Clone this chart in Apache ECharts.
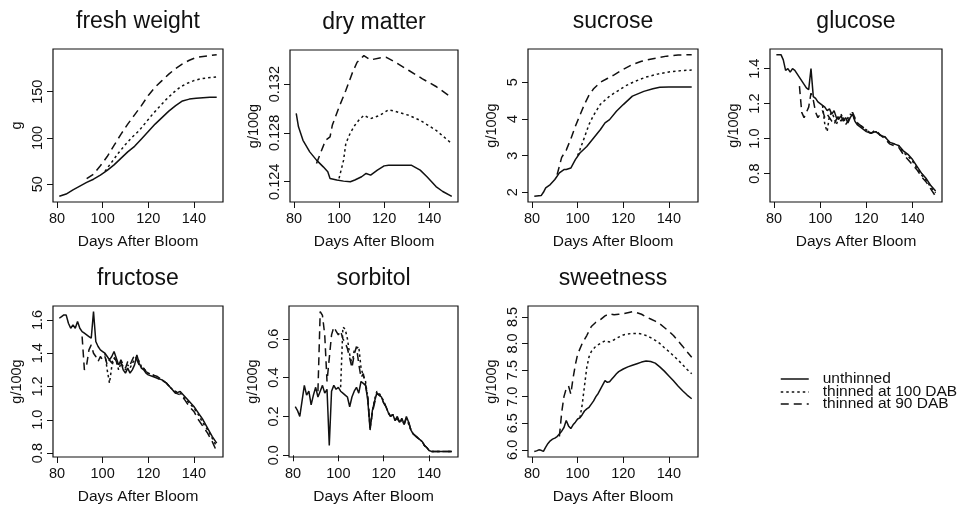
<!DOCTYPE html>
<html><head><meta charset="utf-8">
<script src="https://cdn.jsdelivr.net/npm/echarts@6/dist/echarts.min.js"></script>
<style>html,body{margin:0;padding:0;background:#fff}#c{width:965px;height:509px}</style>
</head><body><div id="c"></div>
<script>
// ---------- tick labels ----------
const dayTicks = [80, 100, 120, 140];
const freshTicks = [50, 100, 150];
const dryTicks = [0.124, 0.128, 0.132];
const sucroseTicks = [2, 3, 4, 5];
const glucoseTicks = [0.8, 1.0, 1.2, 1.4];
const fructoseTicks = [0.8, 1.0, 1.2, 1.4, 1.6];
const sorbitolTicks = [0.0, 0.2, 0.4, 0.6];
const sweetTicks = [6.0, 6.5, 7.0, 7.5, 8.0, 8.5];
const seriesNames = ['unthinned', 'thinned at 100 DAB', 'thinned at 90 DAB'];

// ---------- fresh weight (g) ----------
const freshDaysUn = [81,84,87,90,93,96,99,102,105,108,111,114,117,120,123,126,129,132,135,138,141,144,147,150];
const freshUn = [37,39.5,44,48,52,55.5,60,65,71,78,85,91,99,107,115,122,129,135,140,142,143,143.5,144,144];
const freshDays100 = [101,104,107,110,113,116,119,122,125,128,131,134,137,140,143,146,150];
const fresh100 = [64,74,84,93,101,108,117,126,134,142,149,155,159,162,164,165,166];
const freshDays90 = [93,96,99,102,105,108,111,114,117,120,123,126,129,132,135,138,141,144,147,150];
const fresh90 = [56,61,70,80,92,104,115,125,135,146,155,162,169,175,180,184,187,188,189,190];

// ---------- dry matter ----------
const dryDaysUn = [81,82,84,87,90,93,95,96,99,102,105,107,110,112,114,117,120,122,126,129,132,136,139,143,146,150];
const dryUn = [0.1296,0.1285,0.1274,0.12645,0.12577,0.12522,0.12482,0.12427,0.12414,0.12405,0.124,0.12414,0.12441,0.12468,0.12454,0.12495,0.1253,0.12536,0.12536,0.12536,0.12536,0.12495,0.12441,0.1236,0.1232,0.1228];
const dryDays100 = [100,102,103,105,107,109,111,114,118,122,125,131,136,143,150];
const dry100 = [0.12427,0.12577,0.12713,0.128,0.12863,0.1291,0.12944,0.12917,0.12944,0.1299,0.12977,0.12944,0.12903,0.12822,0.12713];
const dryDays90 = [90,92,94,96,97,100,103,106,108,111,114,118,121,125,131,137,143,150];
const dry90 = [0.1255,0.12645,0.1274,0.12767,0.12863,0.13012,0.13148,0.13298,0.1338,0.13434,0.13399,0.13415,0.1342,0.1338,0.13312,0.13244,0.13181,0.1309];

// ---------- sucrose ----------
const sucDaysUn = [81,84,85,86,88,90,92,94,95,97,99,101,104,107,110,112,114,117,120,124,129,133,136,140,145,150];
const sucUn = [1.89,1.91,2.0,2.12,2.21,2.35,2.53,2.62,2.62,2.66,2.89,3.07,3.25,3.48,3.71,3.89,3.98,4.21,4.39,4.62,4.75,4.82,4.86,4.87,4.87,4.87];
const sucDays100 = [100,101,103,105,107,110,114,118,121,125,130,135,140,146,150];
const suc100 = [3.0,3.16,3.5,3.85,4.1,4.4,4.62,4.78,4.9,5.02,5.14,5.22,5.28,5.32,5.33];
const sucDays90 = [91,93,95,97,99,101,103,105,107,110,113,116,120,124,128,133,139,144,150];
const suc90 = [2.48,2.95,3.15,3.45,3.8,4.1,4.4,4.65,4.82,5.0,5.1,5.2,5.35,5.48,5.57,5.64,5.71,5.74,5.75];

// ---------- shared day lists for glucose / fructose ----------
const hexDaysUn = [81,82,83,84,85,86,87,88,89,90,91,92,93,94,95,96,97,98,99,100,101,102,103,104,105,106,107,108,109,110,111,112,113,114,115,116,117,118,119,120,122,124,126,128,130,132,134,136,138,140,142,144,146,148,150];
const hexDays90 = [91,92,93,94,95,96,97,98,99,100,101,102,103,104,105,106,107,108,109,110,111,112,113,114,115,116,117,118,119,120,122,124,126,128,130,132,134,136,138,140,142,144,146,148,150];
const hexDays100 = [101,102,103,104,105,106,107,108,109,110,111,112,113,114,115,116,117,118,119,120,122,124,126,128,130,132,134,136,138,140,142,144,146,148,150];

// ---------- glucose ----------
const gluUn = [1.48,1.48,1.48,1.45,1.39,1.40,1.38,1.40,1.39,1.37,
  1.35,1.33,1.31,1.29,1.28,1.40,1.24,1.23,1.21,1.20,
  1.19,1.18,1.16,1.17,1.14,1.16,1.12,1.11,1.13,1.10,
  1.12,1.09,1.12,1.14,1.10,1.08,1.07,1.06,1.05,1.04,
  1.03,1.04,1.02,1.01,0.98,0.97,0.96,0.93,0.91,0.88,0.84,0.80,0.77,0.73,0.70];
const glu90 = [1.30,1.15,1.12,1.15,1.18,1.26,1.22,1.15,1.12,1.14,
  1.16,1.12,1.14,1.12,1.10,1.08,1.11,1.13,1.10,1.12,
  1.08,1.10,1.13,1.15,1.12,1.09,1.08,1.07,1.06,1.05,
  1.03,1.05,1.02,1.00,0.97,0.96,0.95,0.91,0.88,0.85,0.82,0.78,0.75,0.71,0.67];
const glu100 = [1.19,1.08,1.04,1.13,1.15,1.12,1.08,1.12,1.14,1.11,
  1.10,1.12,1.14,1.13,1.11,1.09,1.08,1.07,1.06,1.05,
  1.03,1.04,1.02,1.01,0.98,0.97,0.96,0.92,0.90,0.87,0.83,0.79,0.76,0.72,0.69];

// ---------- fructose ----------
const fruUn = [1.61,1.62,1.63,1.63,1.58,1.55,1.57,1.55,1.59,1.55,
  1.53,1.52,1.51,1.50,1.49,1.65,1.47,1.44,1.42,1.41,
  1.40,1.38,1.36,1.38,1.41,1.37,1.33,1.35,1.30,1.28,
  1.31,1.28,1.30,1.33,1.39,1.34,1.31,1.30,1.28,1.27,
  1.26,1.25,1.24,1.22,1.19,1.16,1.17,1.14,1.11,1.08,1.04,1.00,0.95,0.90,0.86];
const fru90 = [1.50,1.30,1.33,1.42,1.45,1.40,1.38,1.35,1.38,1.36,
  1.38,1.33,1.36,1.34,1.38,1.35,1.32,1.36,1.33,1.31,
  1.35,1.33,1.36,1.39,1.36,1.33,1.31,1.31,1.29,1.28,
  1.27,1.26,1.24,1.22,1.19,1.16,1.15,1.12,1.08,1.05,1.00,0.96,0.92,0.87,0.81];
const fru100 = [1.40,1.30,1.22,1.32,1.37,1.35,1.30,1.34,1.32,1.30,
  1.33,1.31,1.34,1.36,1.38,1.35,1.32,1.31,1.29,1.28,
  1.27,1.25,1.24,1.22,1.19,1.17,1.16,1.13,1.10,1.07,1.03,0.98,0.94,0.89,0.84];

// ---------- sorbitol ----------
const sorDaysUn = [81,82,83,84,85,86,87,88,89,90,91,92,93,94,95,96,97,98,99,100,101,102,103,104,105,106,107,108,109,110,111,112,113,114,115,116,117,118,119,120,121,122,123,124,125,126,127,128,129,130,131,132,133,134,135,136,137,138,139,140,141,143,145,147,150];
const sorUn = [0.25,0.23,0.20,0.28,0.36,0.31,0.33,0.26,0.31,0.35,
  0.30,0.33,0.36,0.32,0.34,0.05,0.33,0.36,0.34,0.35,
  0.33,0.32,0.31,0.30,0.25,0.30,0.33,0.35,0.32,0.38,
  0.37,0.36,0.28,0.13,0.23,0.28,0.32,0.31,0.30,0.27,
  0.25,0.22,0.20,0.21,0.18,0.20,0.17,0.19,0.16,0.20,
  0.17,0.13,0.11,0.10,0.09,0.08,0.07,0.05,0.04,0.025,0.02,
  0.02,0.02,0.02,0.02];
const sorDays90 = [91,92,93,94,95,96,97,98,99,100,101,102,103,104,105,106,107,108,109,110,111,112,113,114,115,116,117,118,119,120,121,122,123,124,125,126,127,128,129,130,131,132,133,134,135,136,137,138,139,140,141,143,145,147,150];
const sor90 = [0.33,0.74,0.72,0.62,0.38,0.50,0.62,0.66,0.64,0.62,
  0.64,0.60,0.58,0.55,0.50,0.45,0.52,0.56,0.47,0.40,
  0.42,0.36,0.30,0.14,0.22,0.27,0.32,0.31,0.30,0.27,0.25,
  0.22,0.20,0.21,0.18,0.19,0.17,0.18,0.16,0.19,0.17,
  0.13,0.11,0.10,0.09,0.08,0.07,0.05,0.04,0.025,0.02,
  0.02,0.02,0.02,0.02];
const sorDays100 = [101,102,103,104,105,106,107,108,109,110,111,112,113,114,115,116,117,118,119,120,121,122,123,124,125,126,127,128,129,130,131,132,133,134,135,136,137,138,139,140,141,143,145,147,150];
const sor100 = [0.35,0.66,0.65,0.60,0.52,0.47,0.54,0.55,0.56,0.45,
  0.41,0.38,0.29,0.14,0.22,0.29,0.33,0.32,0.30,0.28,
  0.25,0.22,0.20,0.21,0.18,0.19,0.17,0.18,0.16,0.19,
  0.16,0.13,0.11,0.10,0.09,0.08,0.07,0.05,0.04,0.025,0.02,
  0.02,0.02,0.02,0.02];

// ---------- sweetness ----------
const swDaysUn = [81,82,83,84,85,86,87,88,89,90,91,92,93,94,95,96,97,98,99,100,101,102,103,104,105,106,107,108,109,110,111,112,113,114,115,116,117,118,120,122,124,126,128,130,132,134,136,138,140,142,144,146,148,150];
const swUn = [5.97,5.98,6.0,5.99,5.97,6.05,6.12,6.17,6.2,6.22,
  6.25,6.3,6.35,6.42,6.55,6.45,6.4,6.47,6.52,6.58,
  6.6,6.66,6.73,6.77,6.8,6.86,6.92,7.0,7.06,7.14,7.22,7.3,
  7.27,7.28,7.33,7.38,7.43,7.47,
  7.52,7.56,7.59,7.62,7.65,7.67,7.66,7.63,7.56,7.48,7.39,7.3,7.2,7.11,7.03,6.96];
const swDays100 = [101,102,103,104,105,106,108,110,112,114,116,118,120,122,124,126,128,130,132,134,136,138,140,142,144,146,148,150];
const sw100 = [6.6,6.85,7.2,7.55,7.75,7.85,7.95,8.0,8.05,8.03,8.07,8.12,8.16,8.18,8.19,8.19,8.18,8.15,8.11,8.06,8.0,7.92,7.85,7.77,7.69,7.6,7.51,7.43];
const swDays90 = [92,93,94,95,96,97,98,99,100,102,104,106,108,110,112,114,116,118,120,122,124,126,128,130,132,134,136,138,140,142,144,146,148,150];
const sw90 = [6.25,6.7,7.0,7.15,7.2,7.05,7.35,7.6,7.8,8.0,8.15,8.32,8.4,8.45,8.52,8.56,8.54,8.55,8.56,8.58,8.6,8.58,8.55,8.5,8.46,8.42,8.37,8.3,8.23,8.15,8.05,7.95,7.84,7.74];

// ---------- panels ----------
const panels = [
  {title:'fresh weight', unit:'g', ticks:freshTicks, dec:0, s:[[freshDaysUn,freshUn],[freshDays100,fresh100],[freshDays90,fresh90]]},
  {title:'dry matter', unit:'g/100g', ticks:dryTicks, dec:3, s:[[dryDaysUn,dryUn],[dryDays100,dry100],[dryDays90,dry90]]},
  {title:'sucrose', unit:'g/100g', ticks:sucroseTicks, dec:0, s:[[sucDaysUn,sucUn],[sucDays100,suc100],[sucDays90,suc90]]},
  {title:'glucose', unit:'g/100g', ticks:glucoseTicks, dec:1, s:[[hexDaysUn,gluUn],[hexDays100,glu100],[hexDays90,glu90]]},
  {title:'fructose', unit:'g/100g', ticks:fructoseTicks, dec:1, s:[[hexDaysUn,fruUn],[hexDays100,fru100],[hexDays90,fru90]]},
  {title:'sorbitol', unit:'g/100g', ticks:sorbitolTicks, dec:1, s:[[sorDaysUn,sorUn],[sorDays100,sor100],[sorDays90,sor90]]},
  {title:'sweetness', unit:'g/100g', ticks:sweetTicks, dec:1, s:[[swDaysUn,swUn],[swDays100,sw100],[swDays90,sw90]]}
];

// layout (left, top, width, height) of each plot box
const boxes = [[53,49,170,153],[290,50,168,152],[528,49,170,153],[770,49,172,153],
               [53,306,170,151],[289,306,169,151],[528,306,170,151]];
const FONT = "'Liberation Sans', Arial, Helvetica, sans-serif";
const INK = '#111';
const dashTypes = ['solid', [2.5, 3], [8, 5]];

function padRange(arrs) {
  let lo = Infinity, hi = -Infinity;
  arrs.forEach(a => a.forEach(v => { if (v < lo) lo = v; if (v > hi) hi = v; }));
  const p = (hi - lo) * 0.04;
  return [lo - p, hi + p];
}
const zip = (xs, ys) => xs.map((x, i) => [x, ys[i]]);

const grid = [], xAxis = [], yAxis = [], series = [], title = [];
panels.forEach((p, i) => {
  const b = boxes[i];
  grid.push({left:b[0], top:b[1], width:b[2], height:b[3], show:true, borderColor:INK, borderWidth:1.2,
    backgroundColor:'transparent', containLabel:false, outerBoundsMode:'none'});
  const xr = padRange(p.s.map(s => s[0]));
  const yr = padRange(p.s.map(s => s[1]));
  xAxis.push({type:'value', gridIndex:i, min:xr[0], max:xr[1],
    axisLine:{show:false}, splitLine:{show:false},
    axisTick:{show:true, inside:false, length:6, customValues:dayTicks, lineStyle:{color:INK, width:1}},
    axisLabel:{customValues:dayTicks, margin:9, fontSize:14.5, color:INK, fontFamily:FONT},
    name:'Days After Bloom', nameLocation:'middle', nameGap:32,
    nameTextStyle:{fontSize:15.5, color:INK, fontFamily:FONT}});
  yAxis.push({type:'value', gridIndex:i, min:yr[0], max:yr[1],
    axisLine:{show:false}, splitLine:{show:false},
    axisTick:{show:true, inside:false, length:6, customValues:p.ticks, lineStyle:{color:INK, width:1}},
    axisLabel:{customValues:p.ticks, rotate:90, margin:8, fontSize:14.5, color:INK, fontFamily:FONT,
      formatter:(v) => Number(v).toFixed(p.dec)},
    name:p.unit, nameLocation:'middle', nameGap:29,
    nameTextStyle:{fontSize:14.5, color:INK, fontFamily:FONT}});
  p.s.forEach((s, k) => {
    series.push({type:'line', name:seriesNames[k], xAxisIndex:i, yAxisIndex:i,
      data:zip(s[0], s[1]), symbol:'none', showSymbol:false, silent:true,
      lineStyle:{color:INK, width:1.5, type:dashTypes[k]}, itemStyle:{color:INK}});
  });
  title.push({text:p.title, left:b[0] + b[2] / 2, top:b[1] - 39, textAlign:'center', padding:0,
    textStyle:{fontSize:23, fontWeight:'normal', color:INK, fontFamily:FONT}});
});

const legendTops = [371, 384, 396];
const legend = seriesNames.map((n, k) => ({
  data:[n], left:780, top:legendTops[k], orient:'horizontal', padding:0,
  itemWidth:28, itemHeight:12, selectedMode:false,
  itemStyle:{color:'rgba(0,0,0,0)', borderWidth:0, opacity:0},
  lineStyle:{color:INK, width:1.5, type:dashTypes[k]},
  textStyle:{fontSize:15.5, color:INK, fontFamily:FONT, padding:[0,0,0,9]}
}));

const chart = echarts.init(document.getElementById('c'), null, {renderer:'canvas'});
chart.setOption({animation:false, backgroundColor:'#fff', title, grid, xAxis, yAxis, series, legend});
</script></body></html>
